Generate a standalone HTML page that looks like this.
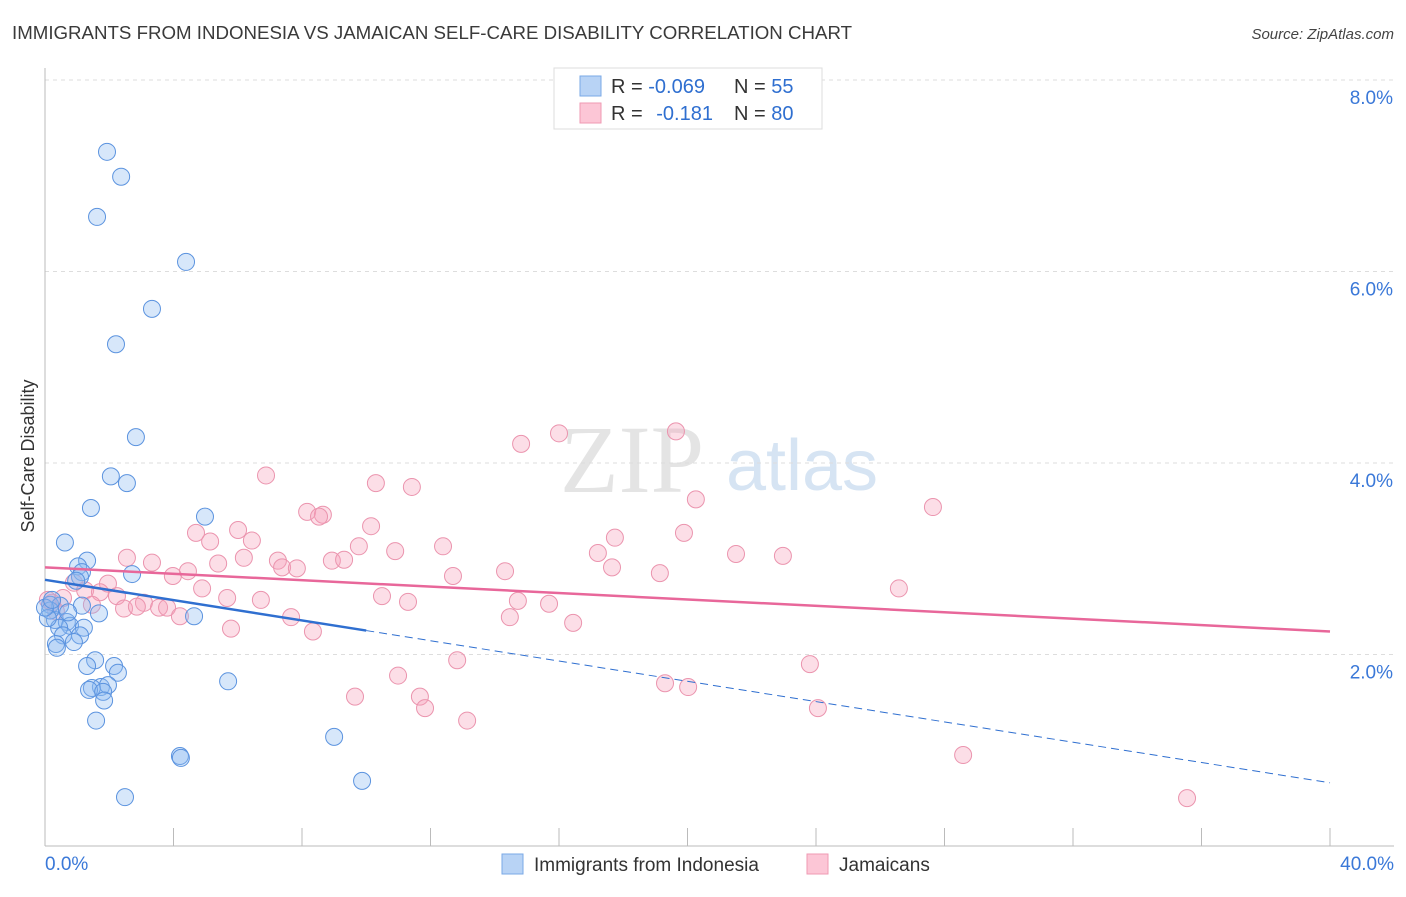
<!DOCTYPE html>
<html><head><meta charset="utf-8">
<style>
body{margin:0;background:#fff;font-family:"Liberation Sans",sans-serif;}
svg text{font-family:"Liberation Sans",sans-serif;}
</style></head>
<body>
<svg id="chart" width="1406" height="892" xmlns="http://www.w3.org/2000/svg">
<text x="12" y="39" font-size="18.7" fill="#3a3a3a">IMMIGRANTS FROM INDONESIA VS JAMAICAN SELF-CARE DISABILITY CORRELATION CHART</text>
<text x="1394" y="39" font-size="15" fill="#444" text-anchor="end" font-style="italic">Source: ZipAtlas.com</text>
<g>
<text x="632" y="492" font-size="96" fill="#e4e4e4" text-anchor="middle" font-family="Liberation Serif" style="font-family:'Liberation Serif',serif">ZIP</text>
<text x="802" y="490" font-size="72" fill="#d6e4f3" text-anchor="middle">atlas</text>
</g>
<g id="grid"></g>
<g id="axes"></g>
<g id="marks"></g>
<text transform="translate(34,456) rotate(-90)" font-size="18" fill="#333" text-anchor="middle">Self-Care Disability</text>
<g>
<rect x="554" y="68" width="268" height="61" fill="#fff" stroke="#ddd"/>
<rect x="580" y="76" width="21" height="20" fill="#b8d3f5" stroke="#7aa8e6"/>
<rect x="580" y="103" width="21" height="20" fill="#fcc6d6" stroke="#ef9ab3"/>
<text x="611" y="93" font-size="20" fill="#333">R = <tspan fill="#2f6fd0">-0.069</tspan></text>
<text x="734" y="93" font-size="20" fill="#333">N = <tspan fill="#2f6fd0">55</tspan></text>
<text x="611" y="120" font-size="20" fill="#333">R = <tspan fill="#2f6fd0" dx="8">-0.181</tspan></text>
<text x="734" y="120" font-size="20" fill="#333">N = <tspan fill="#2f6fd0">80</tspan></text>
</g>
<g>
<rect x="502" y="854" width="21" height="20" fill="#b8d3f5" stroke="#7aa8e6"/>
<text x="534" y="871" font-size="19" fill="#333">Immigrants from Indonesia</text>
<rect x="807" y="854" width="21" height="20" fill="#fcc6d6" stroke="#ef9ab3"/>
<text x="839" y="871" font-size="19" fill="#333">Jamaicans</text>
</g>
</svg>
<script>
const xTicks=[0,4,8,12,16,20,24,28,32,36,40];
const yTicks=[2,4,6,8];
const yTickLabels=["2.0%","4.0%","6.0%","8.0%"];
const blueX=[1.93,2.37,1.62,4.39,3.33,2.21,2.83,2.05,2.55,1.43,4.98,0.62,1.31,1.03,1.15,2.71,1.09,0.97,0.16,0.47,1.15,1.68,4.64,0.31,0.68,0.78,0.44,1.21,0.56,1.09,0.90,0.34,0.37,1.56,1.31,2.15,2.27,1.74,1.96,1.46,1.37,1.81,1.84,5.70,1.59,4.20,4.23,9.00,9.87,2.49,0.16,0.09,0.0,0.22,0.72];
const blueY=[7.25,6.99,6.57,6.10,5.61,5.24,4.27,3.86,3.79,3.53,3.44,3.17,2.98,2.92,2.86,2.84,2.81,2.77,2.52,2.51,2.51,2.43,2.40,2.36,2.34,2.30,2.28,2.28,2.20,2.20,2.13,2.11,2.07,1.94,1.88,1.88,1.81,1.66,1.68,1.65,1.63,1.61,1.52,1.72,1.31,0.94,0.92,1.14,0.68,0.51,2.46,2.38,2.49,2.57,2.44];
const pinkX=[14.82,16.00,19.64,6.88,10.30,11.42,20.26,27.64,8.16,8.65,8.53,10.15,19.89,4.70,6.01,5.14,6.44,17.74,12.39,9.77,10.90,2.55,6.19,17.21,21.51,22.97,3.33,5.39,7.25,8.93,9.31,7.38,7.84,17.65,4.45,14.32,3.98,12.70,19.14,0.90,1.96,1.25,4.89,26.58,0.56,1.71,2.24,5.67,6.72,10.49,3.08,11.30,14.72,15.69,3.55,3.80,2.46,2.86,0.22,0.34,4.20,7.66,14.47,16.44,5.79,8.34,12.83,23.81,10.99,9.65,11.67,11.83,13.14,19.30,20.02,24.06,28.58,35.55,0.09,1.46];
const pinkY=[4.20,4.31,4.33,3.87,3.79,3.75,3.62,3.54,3.49,3.46,3.44,3.34,3.27,3.27,3.30,3.18,3.19,3.22,3.13,3.13,3.08,3.01,3.01,3.06,3.05,3.03,2.96,2.95,2.98,2.98,2.99,2.91,2.90,2.91,2.87,2.87,2.82,2.82,2.85,2.75,2.74,2.67,2.69,2.69,2.59,2.65,2.61,2.59,2.57,2.61,2.54,2.55,2.56,2.53,2.49,2.49,2.48,2.50,2.54,2.45,2.40,2.39,2.39,2.33,2.27,2.24,1.94,1.90,1.78,1.56,1.56,1.44,1.31,1.70,1.66,1.44,0.95,0.50,2.57,2.52];
const blueTrend=[2.78,0.66];
const pinkTrend=[2.91,2.24];
const NS="http://www.w3.org/2000/svg";
const X=v=>45+v/40*1285;
const Y=v=>846-v*95.75;
function mk(parent,tag,attrs){const e=document.createElementNS(NS,tag);for(const k in attrs)e.setAttribute(k,attrs[k]);document.getElementById(parent).appendChild(e);return e;}
yTicks.forEach((t,i)=>{
 const l=mk('grid','line',{x1:45,x2:1394,y1:Y(t),y2:Y(t),stroke:'#ddd','stroke-dasharray':'4,4'});
 
 
 const tx=mk('axes','text',{x:1393,y:Y(t)+24,'font-size':19,fill:'#3a78d8','text-anchor':'end'});
 tx.textContent=yTickLabels[i];
 
 
});
const ax=mk('axes','line',{x1:45,x2:45,y1:68,y2:846,stroke:'#bbb'});


const bx=mk('axes','line',{x1:45,x2:1394,y1:846,y2:846,stroke:'#bbb'});


xTicks.forEach(t=>{
 const l=mk('axes','line',{x1:X(t),x2:X(t),y1:828,y2:846,stroke:'#bbb'});
 
 
});
const xl0=mk('axes','text',{x:45,y:870,'font-size':19,fill:'#3a78d8'});xl0.textContent='0.0%';


const xl1=mk('axes','text',{x:1394,y:870,'font-size':19,fill:'#3a78d8','text-anchor':'end'});xl1.textContent='40.0%';


pinkX.forEach((v,i)=>{
 const c=mk('marks','circle',{cx:X(v),cy:Y(pinkY[i]),r:8.5,fill:'rgba(245,160,185,0.35)',stroke:'#eb94ae','stroke-width':1});
 
 
});
blueX.forEach((v,i)=>{
 const c=mk('marks','circle',{cx:X(v),cy:Y(blueY[i]),r:8.5,fill:'rgba(140,185,240,0.35)',stroke:'#5b93df','stroke-width':1});
 
 
});
const bEnd=10;
const bAt=x=>blueTrend[0]+(blueTrend[1]-blueTrend[0])*x/40;
const b1=mk('marks','line',{x1:X(0),y1:Y(bAt(0)),x2:X(bEnd),y2:Y(bAt(bEnd)),stroke:'#2f6fd0','stroke-width':2.5});


const b2=mk('marks','line',{x1:X(bEnd),y1:Y(bAt(bEnd)),x2:X(40),y2:Y(bAt(40)),stroke:'#2f6fd0','stroke-width':1,'stroke-dasharray':'8,5'});


const p1=mk('marks','line',{x1:X(0),y1:Y(pinkTrend[0]),x2:X(40),y2:Y(pinkTrend[1]),stroke:'#e8679a','stroke-width':2.5});


</script>
</body></html>
